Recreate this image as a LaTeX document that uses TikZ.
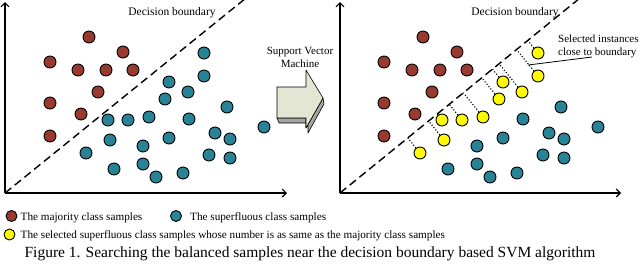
\documentclass[tikz,border=0pt]{standalone}
\usepackage{fontspec}
\setmainfont{Liberation Serif}
\usetikzlibrary{arrows.meta,calc}
\definecolor{majred}{RGB}{152,58,48}
\definecolor{supteal}{RGB}{40,131,151}
\definecolor{selyel}{RGB}{255,250,0}
\definecolor{arrowface}{RGB}{226,230,210}
\definecolor{arrowside}{RGB}{165,165,165}
\begin{document}
\begin{tikzpicture}[x=1pt,y=-1pt,
  dot/.style={circle,draw=black,line width=0.9pt,minimum size=12pt,inner sep=0pt},
  reddot/.style={dot,fill=majred},
  tealdot/.style={dot,fill=supteal},
  yeldot/.style={dot,fill=selyel},
  legdot/.style={dot,minimum size=11pt},
  axis/.style={line width=1.1pt,-{Straight Barb[length=4pt,width=8pt]}},
  boundary/.style={line width=1.4pt,dash pattern=on 8pt off 4.5pt},
  proj/.style={line width=1.1pt,dash pattern=on 1.1pt off 1.9pt},
  lbl/.style={font=\fontsize{11.5}{12}\selectfont,inner sep=0pt},
  legtxt/.style={font=\fontsize{11.2}{12}\selectfont,inner sep=0pt,anchor=base west},
]
\useasboundingbox (0,0) rectangle (640,266);
% axes
\coordinate (oL) at (5,193);
\coordinate (yL) at (5,2);
\coordinate (xL) at (287,193);
\coordinate (oR) at (340,193);
\coordinate (yR) at (340,2);
\coordinate (xR) at (621,193);
\draw[axis] (oL) -- (yL);
\draw[axis] (oL) -- (xL);
\draw[axis] (oR) -- (yR);
\draw[axis] (oR) -- (xR);
% decision boundaries
\coordinate (bL0) at (5,193);
\coordinate (bL1) at (246,-2);
\coordinate (bR0) at (340,193);
\coordinate (bR1) at (580,-2);
\draw[boundary] (bL0) -- (bL1);
\draw[boundary] (bR0) -- (bR1);
\node[lbl] (dbL) at (172,13) {Decision boundary};
\node[lbl] (dbR) at (515,13) {Decision boundary};
% left panel samples
\foreach \x/\y [count=\i] in {89/37,123/52,50/62,78/70,106/70,133/70,98/92,50/103,81/114,50/136}
  \node[reddot] (lr\i) at (\x,\y) {};
\foreach \x/\y [count=\i] in {204/53,204/76,169/82,188/92,165/99,108/120,128/120,149/117,110/140,86/153,
  227/107,189/119,215/133,230/139,143/146,169/138,209/155,230/158,114/169,143/164,156/177,183/173,264/127}
  \node[tealdot] (lt\i) at (\x,\y) {};
% right panel samples
\foreach \x/\y [count=\i] in {89/37,123/52,50/62,78/70,106/70,133/70,98/92,50/103,81/114,50/136}
  \node[reddot] (rr\i) at ({\x+334},\y) {};
\foreach \x/\y [count=\i] in {227/107,189/119,215/133,230/139,143/146,169/138,209/155,230/158,114/169,143/164,156/177,183/173,264/127}
  \node[tealdot] (rt\i) at ({\x+334},\y) {};
\foreach \x/\y [count=\i] in {204/53,204/76,169/82,188/92,165/99,108/120,128/120,149/117,110/140,86/153}
  \node[yeldot] (ry\i) at ({\x+334},\y) {};
\foreach \i in {1,...,10}
  \draw[proj] (ry\i) -- ($(bR0)!(ry\i)!(bR1)$);
% selected label
\node[lbl,font=\fontsize{11}{13}\selectfont,align=left,anchor=west] (sel) at (558,46) {Selected instances\\close to boundary};
\coordinate (selA) at (528,65);
\coordinate (selB) at (592,57);
\draw[line width=0.8pt] (selA) -- (selB);
% SVM arrow
\node[lbl,font=\fontsize{11}{13}\selectfont,align=center] (svm) at (300,57) {Support Vector\\Machine};
\coordinate (a1) at (277,87);
\coordinate (a2) at (306,87);
\coordinate (a3) at (306,70);
\coordinate (a4) at (323,98);
\coordinate (a5) at (306,128);
\coordinate (a6) at (306,118);
\coordinate (a7) at (277,118);
\fill[arrowside,draw=black,line width=0.6pt,line join=round]
  (a7) -- ++(2,5) -- ($(a6)+(2,5)$) -- ($(a5)+(2,5)$) -- ($(a4)+(1,6)$) -- (a4) -- (a5) -- (a6) -- cycle;
\fill[arrowface,draw=black,line width=0.6pt,line join=round]
  (a1) -- (a2) -- (a3) -- (a4) -- (a5) -- (a6) -- (a7) -- cycle;
% legend
\node[legdot,fill=majred] (lg1) at (11.5,216) {};
\node[legtxt] (lt1) at (20.5,220.5) {The majority class samples};
\node[legdot,fill=supteal] (lg2) at (176,216) {};
\node[legtxt] (lt2) at (190,220.5) {The superfluous class samples};
\node[legdot,fill=selyel] (lg3) at (9.5,234.5) {};
\node[legtxt] (lt3) at (20.5,238.5) {The selected superfluous class samples whose number is as same as the majority class samples};
% caption
\node[inner sep=0pt,anchor=base,font=\fontsize{15.5}{18}\selectfont] (cap) at (310,257.5) {Figure 1. Searching the balanced samples near the decision boundary based SVM algorithm};
\end{tikzpicture}
\end{document}
